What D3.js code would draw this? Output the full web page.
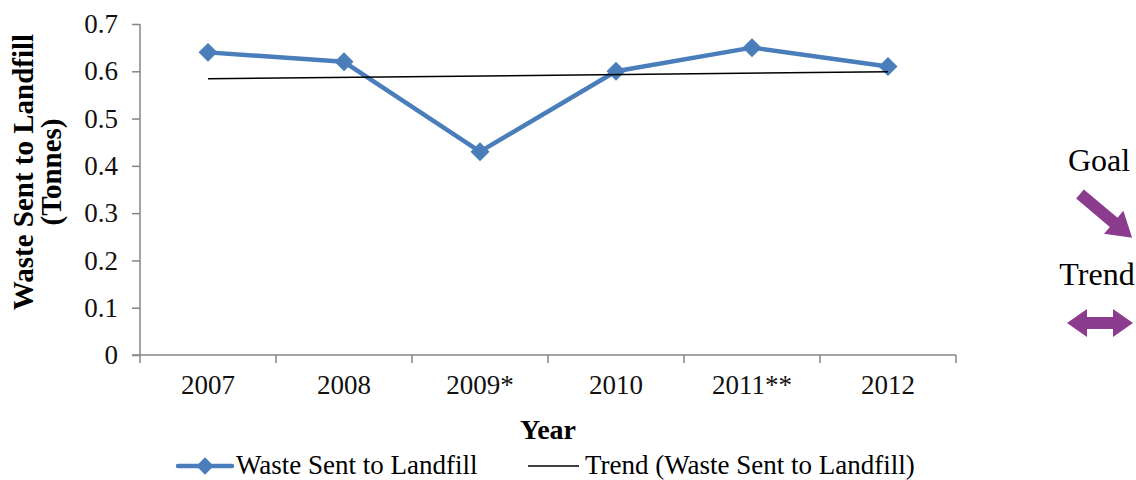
<!DOCTYPE html>
<html>
<head>
<meta charset="utf-8">
<script src="https://cdn.jsdelivr.net/npm/d3@7"></script>
<style>
  html, body { margin: 0; padding: 0; background: #fff; }
  svg { display: block; font-family: "Liberation Serif", "DejaVu Serif", serif; }
</style>
</head>
<body>
<div id="chart"></div>
<script>
// ---- data ----
const years = ["2007", "2008", "2009*", "2010", "2011**", "2012"];
const waste = [0.64, 0.62, 0.43, 0.60, 0.65, 0.61];
const trend = [0.584, 0.599];           // linear trend, first & last year
const yTicks = [0, 0.1, 0.2, 0.3, 0.4, 0.5, 0.6, 0.7];

const W = 1136, H = 480;
const margin = { top: 24, left: 140 };
const innerW = 816, innerH = 331;

const BLUE = "#4a7ebb", PURPLE = "#8b3c8e", AXIS = "#868686";

const svg = d3.select("#chart").append("svg")
    .attr("width", W).attr("height", H)
    .attr("viewBox", `0 0 ${W} ${H}`);
const plot = svg.append("g")
    .attr("transform", `translate(${margin.left}, ${margin.top})`);

const x = d3.scaleBand().domain(years).range([0, innerW]);
const y = d3.scaleLinear().domain([0, 0.7]).range([innerH, 0]);
const cx = d => x(d) + x.bandwidth() / 2;

// y axis
const yAxis = plot.append("g")
    .call(d3.axisLeft(y).tickValues(yTicks).tickSize(8).tickPadding(14)
        .tickFormat(d => d === 0 ? "0" : d3.format(".1f")(d)));
yAxis.select(".domain").attr("stroke", AXIS).attr("stroke-width", 1.5)
    .attr("d", `M0,${innerH}V0`);
yAxis.selectAll(".tick line").attr("stroke", AXIS).attr("stroke-width", 1.5);
yAxis.selectAll("text").style("font-size", "27px").attr("fill", "#111")
    .style("font-family", "Liberation Serif");

// x axis: ticks sit on category boundaries
const xAxis = plot.append("g").attr("transform", `translate(0, ${innerH})`)
    .call(d3.axisBottom(x).tickSize(0).tickPadding(20));
xAxis.select(".domain").attr("stroke", AXIS).attr("stroke-width", 1.5)
    .attr("d", `M-8,0H${innerW}`);
xAxis.selectAll("text").style("font-size", "27px").attr("fill", "#111")
    .style("font-family", "Liberation Serif");
xAxis.selectAll(".bound").data(d3.range(years.length + 1)).join("line")
    .attr("class", "bound")
    .attr("x1", i => i * x.step()).attr("x2", i => i * x.step())
    .attr("y1", 0).attr("y2", 8)
    .attr("stroke", AXIS).attr("stroke-width", 1.5);

// axis titles
svg.append("text")
    .attr("transform", `translate(${margin.left + innerW / 2}, 439)`)
    .attr("text-anchor", "middle")
    .style("font-size", "28px").style("font-weight", "bold")
    .text("Year");
const yt = svg.append("text")
    .attr("transform", "translate(33, 172) rotate(-90)")
    .attr("text-anchor", "middle")
    .style("font-size", "29px").style("font-weight", "bold");
yt.append("tspan").attr("x", 0).attr("dy", 0).text("Waste Sent to Landfill");
yt.append("tspan").attr("x", 0).attr("dy", 28).text("(Tonnes)");

// data line
const line = d3.line().x((d, i) => cx(years[i])).y(d => y(d));
plot.append("path").datum(waste)
    .attr("d", line)
    .attr("fill", "none").attr("stroke", BLUE)
    .attr("stroke-width", 4.5).attr("stroke-linejoin", "round");

plot.selectAll(".pt").data(waste).join("path")
    .attr("class", "pt")
    .attr("transform", (d, i) => `translate(${cx(years[i])}, ${y(d)}) rotate(45)`)
    .attr("d", d3.symbol().type(d3.symbolSquare).size(180))
    .attr("fill", BLUE);

// trend line
plot.append("line")
    .attr("x1", cx(years[0])).attr("x2", cx(years[years.length - 1]))
    .attr("y1", y(trend[0])).attr("y2", y(trend[1]))
    .attr("stroke", "#000").attr("stroke-width", 1.5);

// legend
const leg = svg.append("g").attr("transform", "translate(0, 466)");
leg.append("line").attr("x1", 178).attr("x2", 232).attr("y1", 0).attr("y2", 0)
    .attr("stroke", BLUE).attr("stroke-width", 4.5).attr("stroke-linecap", "round");
leg.append("path").attr("transform", "translate(205, 0) rotate(45)")
    .attr("d", d3.symbol().type(d3.symbolSquare).size(150)).attr("fill", BLUE);
leg.append("text").attr("x", 236).attr("y", 8)
    .style("font-size", "27px").text("Waste Sent to Landfill");
leg.append("line").attr("x1", 528).attr("x2", 579).attr("y1", 0).attr("y2", 0)
    .attr("stroke", "#000").attr("stroke-width", 1.5);
leg.append("text").attr("x", 585).attr("y", 8)
    .style("font-size", "27px").text("Trend (Waste Sent to Landfill)");

// goal / trend indicators
svg.append("text").attr("x", 1099).attr("y", 171).attr("text-anchor", "middle")
    .style("font-size", "32px").text("Goal");
svg.append("text").attr("x", 1097).attr("y", 285).attr("text-anchor", "middle")
    .style("font-size", "32px").text("Trend");

// down-right arrow
const arrowDR = [[0, -6], [44, -6], [44, -15], [68, 0], [44, 15], [44, 6], [0, 6]];
svg.append("polygon")
    .attr("points", arrowDR.map(p => p.join(",")).join(" "))
    .attr("transform", "translate(1080, 194) rotate(40)")
    .attr("fill", PURPLE);
// double-headed horizontal arrow
const arrowLR = [[0, 0], [20, -14], [20, -6], [46, -6], [46, -14], [66, 0],
                 [46, 14], [46, 6], [20, 6], [20, 14]];
svg.append("polygon")
    .attr("points", arrowLR.map(p => p.join(",")).join(" "))
    .attr("transform", "translate(1067, 323)")
    .attr("fill", PURPLE);
</script>
</body>
</html>
